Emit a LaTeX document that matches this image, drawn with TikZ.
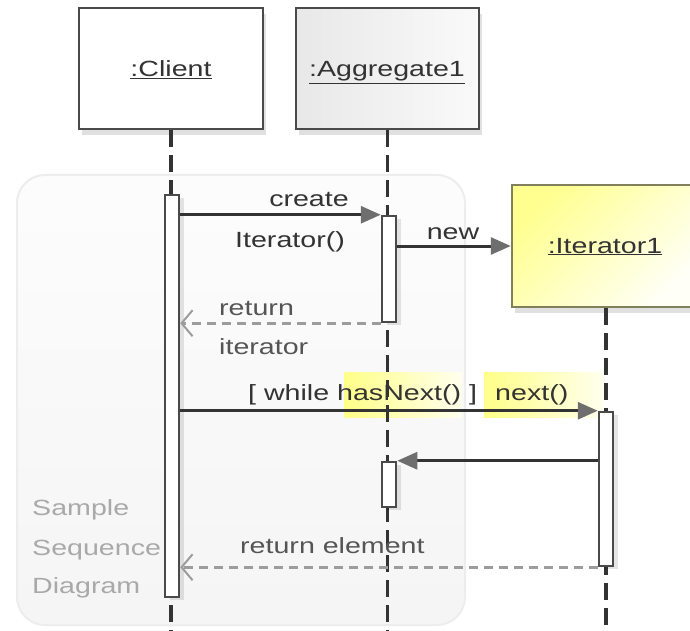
\documentclass[tikz,border=0pt]{standalone}
\usepackage{fontspec}
\setmainfont[FakeStretch=1.3]{Liberation Sans}
\usetikzlibrary{arrows.meta,shadows}
\definecolor{txt}{HTML}{333333}
\definecolor{rettxt}{HTML}{555555}
\definecolor{linec}{HTML}{333333}
\definecolor{headc}{HTML}{6E6E6E}
\definecolor{retc}{HTML}{9C9C9C}
\definecolor{boxc}{HTML}{4A4A4A}
\definecolor{notec}{HTML}{A9A9A9}
\definecolor{hiyel}{HTML}{FFFF88}
\definecolor{hipale}{HTML}{FFFFEE}
\definecolor{ityel}{HTML}{FFFF90}
\definecolor{itmid}{HTML}{FFFFD6}
\definecolor{itend}{HTML}{FFFFF8}
\definecolor{itbord}{HTML}{80805A}
\begin{document}
\begin{tikzpicture}[x=1pt,y=-1pt,
  font=\fontsize{22}{26}\selectfont,
  lbl/.style={text=txt, inner sep=0pt, anchor=base},
  rlbl/.style={text=rettxt, inner sep=0pt, anchor=base west},
  note/.style={text=notec, inner sep=0pt, anchor=base west},
  objbox/.style={draw=boxc, line width=2.5pt, inner sep=0pt, text=txt,
    drop shadow={shadow xshift=3pt, shadow yshift=-6pt, opacity=0.12, fill=black}},
  lifeline/.style={draw=linec, line width=3.5pt, dash pattern=on 17pt off 8pt},
  actbar/.style={draw=boxc, fill=white, line width=2.5pt, minimum width=14pt, inner sep=0pt,
    drop shadow={shadow xshift=5pt, shadow yshift=-3pt, opacity=0.10, fill=black}},
  msg/.style={draw=linec, line width=3pt, -{Triangle[length=20pt,width=17pt,color=headc]}},
  retmsg/.style={draw=retc, line width=2.5pt, dash pattern=on 9pt off 6pt,
    -{Straight Barb[length=11pt,width=26pt,line width=2pt]}},
  hilite/.style={draw=none, left color=hiyel, right color=hipale, inner sep=0pt}
]
\clip (0,0) rectangle (690,631);
\fill[white] (0,0) rectangle (690,631);
\coordinate (bot) at (0,640);

% background frame
\node[draw=black!7, line width=2pt, rounded corners=28pt, top color=black!1, bottom color=black!4,
  minimum width=448pt, minimum height=450pt, inner sep=0pt] (frame) at (241,400) {};

% highlights
\node[hilite, minimum width=118pt, minimum height=45pt] (hl1) at (403,394.5) {};
\node[hilite, minimum width=119pt, minimum height=45pt] (hl2) at (543.5,394.5) {};

% objects
\node[objbox, fill=white, minimum width=184pt, minimum height=121pt] (client) at (171,68.5) {};
\node[objbox, left color=black!9, right color=black!2, minimum width=183pt, minimum height=121pt] (agg) at (387.5,68.5) {};
\node[objbox, draw=itbord, top color=ityel, middle color=itmid, bottom color=itend, shading angle=45,
  minimum width=188pt, minimum height=122pt] (iter) at (606,246) {};

\node[lbl] (tclient) at (171,77) {\underline{:Client}};
\node[lbl] (tagg) at (387,77) {\underline{:Aggregate1}};
\node[lbl] (titer) at (605,253) {\underline{:Iterator1}};

% lifelines
\draw[lifeline] (client.south) -- (client.south |- bot);
\draw[lifeline] (agg.south) -- (agg.south |- bot);
\draw[lifeline] (iter.south) -- (iter.south |- bot);

% activation bars
\node[actbar, minimum height=402pt] (cbar) at (172,396) {};
\node[actbar, minimum height=106pt] (abar) at (389,269) {};
\node[actbar, minimum height=45pt] (abar2) at (389,484.5) {};
\node[actbar, minimum height=154pt] (ibar) at (606,489) {};

% messages
\draw[msg] (cbar.east |- abar.north) -- (abar.north west);
\draw[msg] (abar.east |- iter.west) -- (iter.west);
\draw[retmsg] (abar.south west) -- (cbar.east |- abar.south);
\draw[msg] (cbar.east |- ibar.north) -- (ibar.north west);
\draw[msg] (ibar.west |- abar2.north) -- (abar2.north east);
\draw[retmsg] (ibar.south west) -- (cbar.east |- ibar.south);

% labels
\node[lbl] (lcreate) at (309,206) {create};
\node[lbl] (liter) at (290,247) {Iterator()};
\node[lbl] (lnew) at (453,239) {new};
\node[rlbl] (lret) at (219,315) {return};
\node[rlbl] (lreti) at (219,354) {iterator};
\node[lbl, anchor=base west] (lwhile) at (248,400) {[ while hasNext() ]};
\node[lbl, anchor=base west] (lnext) at (495,400) {next()};
\node[rlbl] (lrete) at (240,553) {return element};

\node[note] (n1) at (32,515) {Sample};
\node[note] (n2) at (32,555) {Sequence};
\node[note] (n3) at (32,593) {Diagram};
\end{tikzpicture}
\end{document}
